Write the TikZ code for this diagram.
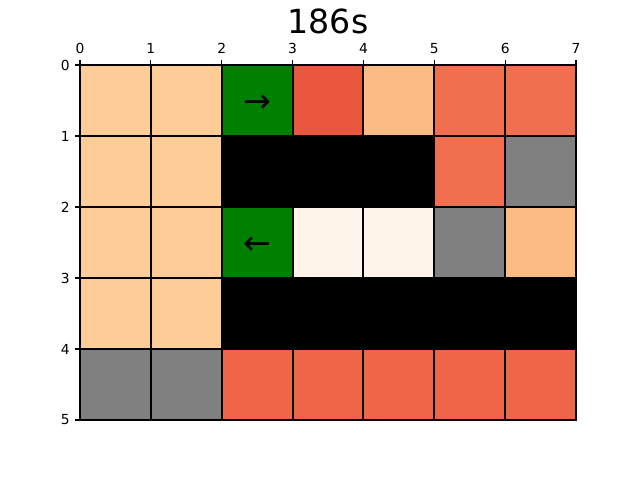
\documentclass[tikz,border=0pt]{standalone}
\usepackage{fontspec}
\setmainfont{DejaVu Sans}
\usepackage{tikz}
\usetikzlibrary{positioning}
\usepackage{xcolor}
\definecolor{peachlt}{HTML}{FDCC97}
\definecolor{peach}{HTML}{FDBB84}
\definecolor{redmid}{HTML}{F16E4F}
\definecolor{reddk}{HTML}{E9573F}
\definecolor{redbot}{HTML}{EE6548}
\definecolor{cream}{HTML}{FFF5EA}
\definecolor{wall}{HTML}{808080}
\definecolor{goal}{HTML}{008000}

\begin{document}
\begin{tikzpicture}[
  x=1.7998cm, y=-1.8034cm,
  every node/.style={font=\fontsize{10}{12}\selectfont},
  cell/.style={draw=black, line width=1.5pt},
  tick/.style={draw=black, line width=0.8pt},
  arrowlbl/.style={font=\fontsize{24}{28}\selectfont, inner sep=0pt}
]
  \useasboundingbox (-2.032cm,1.651cm) rectangle (14.224cm,-10.541cm);

  % value cells, one row at a time
  \foreach \c [count=\i from 0] in {peachlt,peachlt,goal,reddk,peach,redmid,redmid}
    \filldraw[cell, fill=\c] (\i,0) rectangle ++(1,1);
  \foreach \c [count=\i from 0] in {peachlt,peachlt,black,black,black,redmid,wall}
    \filldraw[cell, fill=\c] (\i,1) rectangle ++(1,1);
  \foreach \c [count=\i from 0] in {peachlt,peachlt,goal,cream,cream,wall,peach}
    \filldraw[cell, fill=\c] (\i,2) rectangle ++(1,1);
  \foreach \c [count=\i from 0] in {peachlt,peachlt,black,black,black,black,black}
    \filldraw[cell, fill=\c] (\i,3) rectangle ++(1,1);
  \foreach \c [count=\i from 0] in {wall,wall,redbot,redbot,redbot,redbot,redbot}
    \filldraw[cell, fill=\c] (\i,4) rectangle ++(1,1);

  % policy arrows
  \node[arrowlbl] (right) at (2.51,0.54) {→};
  \node[arrowlbl] (left) at (2.51,2.54) {←};

  % ticks on top and left
  \foreach \i in {0,...,7}
    \draw[tick] (\i,0) -- ++(0,3.5pt) node[above=4.5pt, inner sep=0pt] (xt\i) {\i};
  \foreach \j in {0,...,5}
    \draw[tick] (0,\j) -- ++(-3.5pt,0) node[left=3.5pt, inner sep=0pt] (yt\j) {\j};

  \node[font=\fontsize{24}{28}\selectfont] (title) at (3.5,-0.62) {186s};
\end{tikzpicture}
\end{document}
